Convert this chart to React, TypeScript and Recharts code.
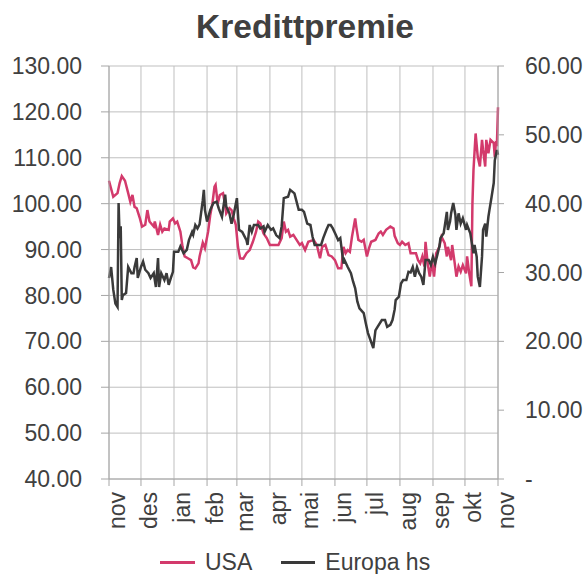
import React from 'react';
import { LineChart, Line, XAxis, YAxis, CartesianGrid } from 'recharts';

// days counted from 1 Nov, month starts used as x ticks
const monthTicks = [0, 30, 61, 92, 120, 151, 181, 212, 242, 273, 304, 334, 365];
const monthLabels = ['nov', 'des', 'jan', 'feb', 'mar', 'apr', 'mai', 'jun', 'jul', 'aug', 'sep', 'okt', 'nov'];

const leftTicks = [40, 50, 60, 70, 80, 90, 100, 110, 120, 130];
const rightTicks = [0, 10, 20, 30, 40, 50, 60];

// USA (left axis)
const usaDay = [
  0, 4, 8, 10, 12, 15, 18, 20, 22, 24, 26, 29, 31, 34, 36, 38, 42, 43, 46, 48,
  50, 52, 56, 57, 60, 62, 64, 67, 69, 71, 74, 77, 79, 81, 84, 85, 88, 90, 93, 95,
  97, 99, 100, 102, 104, 107, 109, 110, 113, 115, 117, 119, 121, 123, 126, 129, 132, 135, 138, 140,
  142, 145, 148, 151, 154, 159, 162, 164, 166, 168, 170, 173, 176, 179, 181, 184, 187, 192, 195, 198,
  200, 203, 206, 209, 212, 215, 218, 220, 222, 224, 226, 228, 231, 232, 234, 237, 239, 242, 244, 246,
  250, 253, 255, 257, 260, 264, 267, 268, 271, 273, 275, 278, 281, 283, 288, 290, 292, 294, 296, 297,
  299, 301, 303, 305, 307, 310, 312, 315, 317, 318, 321, 322, 324, 326, 328, 330, 332, 335, 336, 338,
  340, 341, 342, 344, 346, 348, 350, 351, 353, 354, 356, 358, 361, 362, 363, 364, 365,
];
const usaValue = [
  105, 101.5, 102.3, 104.5, 106, 105, 102.3, 100.4, 101.9, 99.3, 99, 96.8, 95, 95.4, 98.6, 96.1, 95, 96.1, 93.2, 95.4,
  93.9, 94.6, 94.3, 96.1, 96.8, 95.7, 96.1, 93.9, 90.6, 88.5, 88.1, 87.7, 86.1, 85.9, 87, 88.5, 91.5, 90.3, 93.9, 97.5,
  100, 103.7, 104.1, 100, 101.9, 102.3, 99.7, 97.9, 99, 98.6, 96.8, 95.4, 90.6, 88.1, 88, 89.2, 89.9, 91.7, 93.9, 96.1,
  95.7, 93.5, 92.5, 91, 91, 91, 92.5, 96.1, 93.9, 94.3, 92.8, 93.2, 92.1, 91, 91.4, 89.9, 91.7, 92.1, 91, 88.1,
  90.6, 91, 88.8, 88.5, 87.7, 85.9, 85.9, 90.6, 89.2, 89.9, 89.5, 92.8, 96.8, 95, 92.1, 91.7, 92.1, 88.5, 90.3, 91.7,
  92.1, 93.5, 93.9, 93.2, 94.3, 95, 94.6, 93, 91.4, 91, 91.7, 91, 91.4, 89.2, 89.2, 87.7, 87, 88.5, 86.3, 91.7,
  87, 84.1, 87.4, 84.1, 89.2, 90.6, 92.8, 91.4, 88.5, 90.6, 87.7, 91, 87.7, 84.1, 86.3, 85.2, 86.6, 84.8, 88.5, 84.8,
  82, 100, 107.3, 115.3, 110.2, 108.1, 113.9, 111.7, 108.1, 113.9, 111, 113.9, 113.2, 110.2, 113.2, 113, 121,
];

// Europa hs (right axis)
const europaDay = [
  0, 2, 4, 6, 8, 9, 10, 11, 12, 13, 16, 18, 21, 23, 24, 26, 27, 30, 32, 34,
  37, 39, 42, 44, 46, 47, 49, 52, 54, 56, 58, 60, 61, 65, 67, 70, 73, 75, 78, 79,
  81, 83, 85, 88, 89, 90, 92, 95, 98, 101, 103, 106, 109, 110, 113, 115, 117, 120, 122, 125,
  129, 130, 132, 134, 136, 140, 142, 145, 146, 149, 152, 154, 157, 160, 162, 164, 168, 170, 174, 176,
  178, 181, 183, 186, 189, 191, 193, 196, 199, 201, 204, 206, 208, 210, 213, 215, 217, 218, 220, 221,
  224, 227, 229, 231, 233, 235, 239, 241, 243, 246, 248, 250, 252, 256, 259, 261, 264, 266, 268, 269,
  272, 274, 276, 279, 281, 283, 285, 287, 289, 291, 293, 295, 297, 300, 302, 304, 306, 308, 310, 311,
  314, 315, 317, 318, 320, 321, 323, 325, 326, 328, 330, 332, 335, 336, 339, 340, 342, 343, 345, 346,
  348, 350, 351, 353, 354, 356, 357, 359, 361, 362, 364, 365,
];
const europaValue = [
  29.2, 30.8, 27.5, 25.5, 25, 40.1, 35, 36.7, 26, 26.7, 27, 30.8, 29.9, 29.9, 30.8, 32.1, 29.2, 30.8, 31.6, 30.4,
  29.9, 29.2, 29.9, 27.9, 32.1, 27.9, 29.9, 28.9, 29.9, 28.2, 29.2, 30.1, 33, 33, 33.8, 32.8, 33.3, 34.7, 35.9, 35.5,
  36.9, 36.4, 37, 40.5, 42, 39.1, 37.4, 39.1, 40.1, 40.3, 39.3, 38.1, 41.3, 39.6, 38.6, 37.1, 38.4, 40.8, 36.2, 35.9,
  34.7, 34, 36.9, 35.9, 36.9, 36.9, 36.4, 36.7, 35.9, 36.9, 36.2, 36.4, 35.4, 35, 36.7, 40.8, 41, 42, 41.5, 40.3,
  39.1, 39.1, 38.8, 37.1, 36.9, 35.2, 34, 34, 34, 35, 36.2, 36.9, 36.9, 36.4, 35.4, 34.7, 35, 33.8, 31.3, 31.8,
  30.8, 29.9, 28.7, 27.7, 25.8, 24.8, 24.1, 22.6, 21.2, 19.9, 19, 21.6, 22.1, 23.1, 23.1, 22.1, 22.4, 23.1, 24.6, 26,
  26.5, 28.4, 28.9, 28.9, 30.1, 30, 30.8, 29.4, 30.8, 29.9, 29.4, 28.2, 31.8, 31.8, 31.1, 32.3, 31.3, 32.5, 33.8, 35,
  35.7, 36.7, 38.8, 36.2, 37.4, 38.6, 40.1, 38.4, 36.2, 38.6, 37.1, 37.9, 36.2, 36.9, 35.7, 34.7, 32.8, 34, 32.3, 29.4,
  27.9, 32.3, 36.2, 37.1, 35.2, 38.1, 39.1, 41, 43, 46.3, 47.8, 47.1,
];

const usaData = usaDay.map((day, i) => ({ day, usa: usaValue[i] }));
const europaData = europaDay.map((day, i) => ({ day, europa: europaValue[i] }));

const FONT = '"Liberation Sans", Arial, sans-serif';
const TEXT = '#404040';
const GRID = '#bfbfbf';
const AXIS = '#a6a6a6';
const USA_COLOR = '#d33a6c';
const EUROPA_COLOR = '#3a3a3a';

const tickStyle = { fill: TEXT, fontSize: 23, fontFamily: FONT };

export default function App() {
  return (
    <div style={{ width: 586, height: 574, boxSizing: 'border-box', padding: '8px 0 0 8px', fontFamily: FONT }}>
      {/* let the chart use the full window width so the right axis labels are not clipped */}
      <style>{'body { margin: 0; }'}</style>
      <div style={{ position: 'relative', width: 578, height: 566 }}>
        {/* Title */}
        <div
          style={{
            position: 'absolute',
            top: 2,
            left: 297,
            transform: 'translateX(-50%)',
            fontSize: 33.5,
            lineHeight: '34px',
            fontWeight: 'bold',
            color: TEXT,
            whiteSpace: 'nowrap',
          }}
        >
          Kredittpremie
        </div>

        <LineChart width={578} height={558} margin={{ top: 58, right: 0, bottom: 0, left: 0 }}>
          <CartesianGrid yAxisId="left" stroke={GRID} strokeWidth={1} />
          <XAxis
            dataKey="day"
            type="number"
            domain={[0, 365]}
            ticks={monthTicks}
            tickFormatter={(v: number) => monthLabels[monthTicks.indexOf(v)]}
            height={87}
            tickSize={7}
            tickMargin={6}
            stroke={AXIS}
            interval={0}
            tick={{ ...tickStyle, angle: -90, textAnchor: 'end', verticalAnchor: 'middle' }}
          />
          <YAxis
            yAxisId="left"
            domain={[40, 130]}
            ticks={leftTicks}
            width={101}
            tickSize={8}
            tickMargin={19}
            stroke={AXIS}
            interval={0}
            tickFormatter={(v: number) => v.toFixed(2)}
            tick={tickStyle}
          />
          <YAxis
            yAxisId="right"
            orientation="right"
            domain={[0, 60]}
            ticks={rightTicks}
            width={88}
            tickSize={6}
            tickMargin={21}
            stroke={AXIS}
            interval={0}
            tickFormatter={(v: number) => (v === 0 ? '-' : v.toFixed(2))}
            tick={tickStyle}
          />
          <Line
            yAxisId="left"
            data={usaData}
            dataKey="usa"
            name="USA"
            type="linear"
            stroke={USA_COLOR}
            strokeWidth={2.5}
            dot={false}
            isAnimationActive={false}
          />
          <Line
            yAxisId="right"
            data={europaData}
            dataKey="europa"
            name="Europa hs"
            type="linear"
            stroke={EUROPA_COLOR}
            strokeWidth={2.5}
            dot={false}
            isAnimationActive={false}
          />
        </LineChart>

        {/* Legend */}
        <div
          style={{
            position: 'absolute',
            top: 543,
            left: 152,
            display: 'flex',
            alignItems: 'center',
            height: 23,
            lineHeight: '23px',
            fontSize: 23,
            color: TEXT,
            whiteSpace: 'nowrap',
          }}
        >
          <span style={{ display: 'inline-block', width: 35, height: 2.5, background: USA_COLOR, marginRight: 10 }} />
          <span style={{ marginRight: 29 }}>USA</span>
          <span style={{ display: 'inline-block', width: 34, height: 2.5, background: EUROPA_COLOR, marginRight: 10 }} />
          <span>Europa hs</span>
        </div>
      </div>
    </div>
  );
}
